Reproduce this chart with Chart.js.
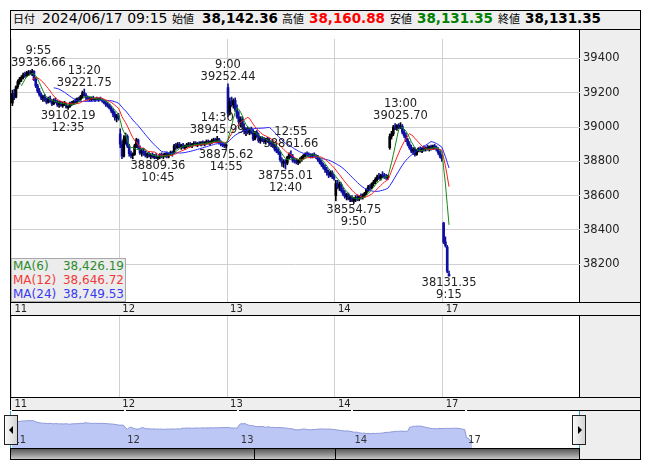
<!DOCTYPE html>
<html>
<head>
<meta charset="utf-8">
<script src="https://cdn.jsdelivr.net/npm/chart.js@4.4.1/dist/chart.umd.min.js"></script>
<style>
  body { margin: 0; background: #fff; }
  #wrap { position: relative; width: 653px; height: 470px; overflow: hidden; font-family: "DejaVu Sans", sans-serif; }
  .a { position: absolute; box-sizing: border-box; }
  canvas { position: absolute; left: 0; }
  .jp { position: absolute; top: 10px; height: 20px; line-height: 20px; font: 11px "Noto Sans CJK JP"; color: #000; }
  .num { position: absolute; top: 10px; height: 20px; line-height: 20px; font: bold 13.5px "DejaVu Sans"; color: #000; }
  .ma { height: 14px; line-height: 14px; font: 12px "DejaVu Sans"; display: flex; justify-content: space-between; padding: 0 1px 0 1px; }
  .tri { position: absolute; width: 0; height: 0; border-top: 4px solid transparent; border-bottom: 4px solid transparent; }
</style>
</head>
<body>
<div id="wrap">
  <!-- frame and panel backgrounds -->
  <div class="a" style="left:10px;top:10px;width:631px;height:450px;border:1px solid #000;background:#fff"></div>
  <div class="a" style="left:11px;top:11px;width:629px;height:18px;background:#eee"></div>
  <div class="a" style="left:10px;top:29px;width:631px;height:1px;background:#000"></div>
  <div class="a" style="left:580px;top:30px;width:60px;height:272px;background:#eee"></div>
  <div class="a" style="left:579px;top:30px;width:1px;height:272px;background:#000"></div>
  <div class="a" style="left:10px;top:302px;width:631px;height:1px;background:#000"></div>
  <div class="a" style="left:11px;top:303px;width:629px;height:12px;background:#eee"></div>
  <div class="a" style="left:10px;top:315px;width:631px;height:1px;background:#000"></div>
  <div class="a" style="left:580px;top:316px;width:60px;height:81px;background:#eee"></div>
  <div class="a" style="left:579px;top:316px;width:1px;height:81px;background:#000"></div>
  <div class="a" style="left:10px;top:397px;width:631px;height:1px;background:#000"></div>
  <div class="a" style="left:11px;top:398px;width:629px;height:12px;background:#eee"></div>
  <div class="a" style="left:10px;top:410px;width:631px;height:1px;background:#000"></div>
  <div class="a" style="left:580px;top:411px;width:60px;height:48px;background:#eee"></div>
  <div class="a" style="left:11px;top:448px;width:568px;height:11px;border-top:1px solid #000;background:linear-gradient(#5a5a5a,#8c8c8c 50%,#c8c8c8)"></div>
  <div class="a" style="left:579px;top:448px;width:1px;height:11px;background:#000"></div>
  <div class="a" style="left:254px;top:448px;width:1px;height:11px;background:#000"></div>
  <div class="a" style="left:335px;top:448px;width:1px;height:11px;background:#000"></div>

  <!-- header -->
  <span class="jp" style="left:13px">日付</span>
  <span id="stamp" style="position:absolute;left:42px;top:10px;height:20px;line-height:20px;font:14px 'DejaVu Sans';color:#000"></span>
  <span class="jp" style="left:172px">始値</span>
  <span class="num" id="hO" style="left:202px"></span>
  <span class="jp" style="left:282px">高値</span>
  <span class="num" id="hH" style="left:309px;color:#f00"></span>
  <span class="jp" style="left:390px">安値</span>
  <span class="num" id="hL" style="left:417px;color:#008000"></span>
  <span class="jp" style="left:498px">終値</span>
  <span class="num" id="hC" style="left:525px"></span>

  <canvas id="main" width="641" height="287" style="top:29px"></canvas>
  <canvas id="sub" width="641" height="95" style="top:316px"></canvas>
  <canvas id="nav" width="641" height="38" style="top:410px"></canvas>

  <div id="legend" class="a" style="left:11px;top:258px;width:115px;height:44px;background:#ececec;border:1px solid #a8a8a8"></div>

  <!-- navigator handles -->
  <div class="a" style="left:10px;top:411px;width:1px;height:37px;background:#29abe2"></div>
  <div class="a" style="left:579px;top:411px;width:1px;height:37px;background:#29abe2"></div>
  <div class="a" style="left:4px;top:415px;width:14px;height:30px;border:1px solid #222;background:linear-gradient(to right,#fafafa,#d4d4d4)">
    <div class="tri" style="left:4px;top:10px;border-right:4px solid #000"></div>
  </div>
  <div class="a" style="left:572px;top:415px;width:14px;height:30px;border:1px solid #222;background:linear-gradient(to right,#fafafa,#d4d4d4)">
    <div class="tri" style="left:5px;top:10px;border-left:4px solid #000"></div>
  </div>
</div>
<script>
// day axis
const dayLabels = ["11", "12", "13", "14", "17"];
const dayStarts = [0, 60, 120, 180, 240];
const priceTicks = [38200, 38400, 38600, 38800, 39000, 39200, 39400];

// moving averages
const maPeriods = [6, 12, 24];
const maColors = ["#128a12", "#ff1a1a", "#2424ff"];
const maTextColors = ["#2e8b2e", "#f03a3a", "#3a3af0"];
const maLegendValues = [38426.19, 38646.72, 38749.53];

const lastStamp = ["2024/06/17", "09:15"];

// 5-minute candles [open, high, low, close]
const day11 = [
  [39140,39215,39125,39195],[39195,39220,39160,39175],[39175,39240,39170,39235],[39235,39275,39225,39265],
  [39265,39290,39250,39280],[39280,39300,39265,39290],[39290,39315,39280,39305],[39305,39320,39290,39300],
  [39300,39325,39295,39315],[39315,39330,39300,39320],[39320,39330,39305,39310],[39310,39336.66,39300,39325],
  [39325,39330,39270,39280],[39280,39290,39230,39240],[39240,39250,39200,39210],[39210,39225,39180,39190],
  [39190,39200,39160,39170],[39170,39185,39150,39175],[39175,39190,39150,39160],[39160,39170,39135,39145],
  [39145,39175,39140,39165],[39165,39180,39145,39150],[39150,39160,39125,39135],[39135,39165,39130,39155],
  [39155,39170,39140,39145],[39145,39155,39120,39130],[39130,39150,39115,39140],[39140,39150,39120,39125],
  [39125,39145,39115,39135],[39135,39150,39125,39140],
  [39130,39140,39110,39115],[39115,39125,39102.19,39120],[39120,39145,39115,39140],[39140,39150,39125,39135],
  [39135,39155,39130,39150],[39150,39165,39140,39145],[39145,39170,39140,39165],[39165,39175,39150,39160],
  [39160,39185,39155,39180],[39180,39210,39170,39200],[39200,39221.75,39180,39185],[39185,39195,39160,39170],
  [39170,39180,39155,39165],[39165,39175,39150,39160],[39160,39175,39150,39170],[39170,39180,39155,39160],
  [39160,39170,39150,39165],[39165,39175,39155,39160],[39160,39170,39150,39165],[39165,39175,39155,39160],
  [39160,39165,39145,39150],[39150,39160,39135,39140],[39140,39150,39120,39130],[39130,39145,39115,39125],
  [39125,39135,39105,39110],[39110,39120,39085,39095],[39095,39105,39060,39075],[39075,39090,39040,39055],
  [39055,39075,39030,39065],[39065,39080,39040,39050]
];
const day12 = [
  [38960,38990,38880,38900],[38900,38920,38815,38830],[38830,38950,38825,38930],[38930,38965,38900,38945],
  [38945,38955,38880,38890],[38890,38900,38830,38845],[38845,38860,38820,38835],[38835,38850,38815,38840],
  [38840,38900,38835,38890],[38890,38935,38880,38925],[38925,38930,38870,38880],[38880,38890,38840,38850],
  [38850,38870,38830,38860],[38860,38875,38835,38845],[38845,38860,38825,38835],[38835,38850,38820,38845],
  [38845,38855,38825,38830],[38830,38845,38815,38840],[38840,38850,38820,38825],[38825,38840,38815,38835],
  [38835,38845,38815,38820],[38820,38830,38809.36,38825],[38825,38845,38815,38840],[38840,38850,38820,38830],
  [38830,38845,38815,38835],[38835,38850,38825,38845],[38845,38855,38820,38830],[38830,38850,38820,38845],
  [38845,38860,38835,38850],[38850,38860,38830,38840],
  [38850,38900,38845,38890],[38890,38905,38870,38880],[38880,38910,38875,38900],[38900,38910,38880,38885],
  [38885,38900,38870,38895],[38895,38905,38875,38880],[38880,38895,38870,38890],[38890,38905,38880,38895],
  [38895,38910,38885,38900],[38900,38910,38885,38890],[38890,38905,38880,38900],[38900,38915,38890,38905],
  [38905,38915,38890,38895],[38895,38910,38885,38905],[38905,38915,38895,38900],[38900,38915,38890,38910],
  [38910,38920,38895,38900],[38900,38915,38890,38910],[38910,38925,38900,38915],[38915,38925,38900,38905],
  [38905,38920,38895,38915],[38915,38930,38905,38920],[38920,38935,38910,38925],[38925,38935,38910,38915],
  [38915,38945.99,38910,38930],[38930,38935,38900,38910],[38910,38920,38890,38900],[38900,38910,38885,38895],
  [38895,38905,38880,38890],[38890,38900,38875.62,38895]
];
const day13 = [
  [39230,39252.44,39060,39080],[39080,39170,39070,39150],[39150,39175,39120,39130],[39130,39165,39110,39155],
  [39155,39170,39090,39100],[39100,39130,39050,39060],[39060,39090,39020,39030],[39030,39060,39000,39045],
  [39045,39060,38990,39000],[39000,39020,38960,38975],[38975,38995,38950,38985],[38985,39000,38960,38970],
  [38970,38995,38955,38990],[38990,39000,38960,38965],[38965,38985,38920,38930],[38930,38975,38925,38970],
  [38970,38980,38940,38950],[38950,38965,38910,38920],[38920,38945,38905,38935],[38935,38945,38915,38925],
  [38925,38940,38905,38915],[38915,38935,38900,38930],[38930,38940,38910,38920],[38920,38935,38895,38905],
  [38905,38920,38885,38900],[38900,38915,38880,38890],[38890,38900,38860,38870],[38870,38885,38850,38860],
  [38860,38880,38840,38850],[38850,38860,38800,38810],
  [38800,38820,38770,38790],[38790,38810,38765,38800],[38800,38810,38755.01,38790],[38790,38830,38780,38825],
  [38825,38850,38815,38840],[38840,38861.66,38820,38830],[38830,38840,38795,38805],[38805,38820,38790,38800],
  [38800,38815,38785,38795],[38795,38810,38780,38805],[38805,38820,38790,38810],[38810,38830,38800,38825],
  [38825,38840,38815,38835],[38835,38850,38825,38845],[38845,38855,38830,38840],[38840,38850,38825,38835],
  [38835,38845,38820,38830],[38830,38845,38820,38840],[38840,38850,38825,38830],[38830,38840,38815,38825],
  [38825,38835,38800,38810],[38810,38820,38785,38795],[38795,38805,38770,38780],[38780,38790,38755,38765],
  [38765,38780,38735,38750],[38750,38765,38720,38735],[38735,38750,38705,38720],[38720,38745,38710,38735],
  [38735,38745,38700,38710],[38710,38725,38690,38700]
];
const day14 = [
  [38600,38690,38570,38670],[38670,38690,38640,38650],[38650,38680,38630,38665],[38665,38675,38620,38630],
  [38630,38645,38600,38610],[38610,38630,38585,38595],[38595,38615,38575,38605],[38605,38615,38575,38580],
  [38580,38600,38565,38590],[38590,38600,38565,38570],[38570,38590,38554.75,38580],[38580,38600,38565,38590],
  [38590,38605,38570,38580],[38580,38600,38570,38595],[38595,38610,38580,38590],[38590,38610,38580,38600],
  [38600,38620,38590,38615],[38615,38640,38605,38635],[38635,38660,38625,38650],[38650,38665,38630,38645],
  [38645,38675,38640,38670],[38670,38690,38655,38680],[38680,38705,38670,38695],[38695,38720,38685,38710],
  [38710,38730,38695,38700],[38700,38725,38690,38720],[38720,38740,38705,38715],[38715,38730,38700,38710],
  [38710,38725,38695,38705],[38705,38720,38695,38715],
  [38880,38960,38870,38945],[38945,38975,38930,38960],[38960,39010,38950,39000],[39000,39020,38985,38995],
  [38995,39015,38980,39010],[39010,39020,38990,39000],[39000,39025.70,38990,39005],[39005,39015,38960,38970],
  [38970,38985,38940,38950],[38950,38965,38915,38925],[38925,38935,38890,38900],[38900,38915,38870,38880],
  [38880,38895,38850,38860],[38860,38880,38840,38870],[38870,38880,38830,38840],[38840,38870,38835,38865],
  [38865,38880,38855,38875],[38875,38885,38855,38860],[38860,38880,38850,38875],[38875,38890,38860,38870],
  [38870,38885,38860,38880],[38880,38895,38865,38870],[38870,38890,38860,38885],[38885,38895,38865,38875],
  [38875,38895,38870,38890],[38890,38900,38870,38880],[38880,38890,38860,38870],[38870,38880,38840,38850],
  [38850,38860,38820,38830],[38830,38840,38800,38815]
];
const day17 = [
  [38440,38445,38320,38330],[38330,38360,38300,38310],[38300,38310,38150,38160],[38142.36,38160.88,38131.35,38131.35]
];

// swing high / low labels
const markIdx = [11, 40, 31, 81, 114, 119, 120, 155, 152, 190, 216, 243];
const markVal = [39336.66, 39221.75, 39102.19, 38809.36, 38945.99, 38875.62, 39252.44, 38861.66, 38755.01, 38554.75, 39025.70, 38131.35];
const markTime = ["9:55", "13:20", "12:35", "10:45", "14:30", "14:55", "9:00", "12:55", "12:40", "9:50", "13:00", "9:15"];
const markSide = ["hi", "hi", "lo", "lo", "hi", "lo", "hi", "hi", "lo", "lo", "hi", "lo"];

const candles = [...day11, ...day12, ...day13, ...day14, ...day17];
const closes = candles.map(c => c[3]);
const UP = "#000000", DOWN = "#1010a0";
const X_MIN = -0.28, X_MAX = 316.4;
const bandFont = { family: "DejaVu Sans", size: 10 };

const fmt = v => v.toLocaleString("en-US", { minimumFractionDigits: 2, maximumFractionDigits: 2 });

// header from the last candle
const last = candles[candles.length - 1];
document.getElementById("stamp").textContent = lastStamp.join(" ");
document.getElementById("hO").textContent = fmt(last[0]);
document.getElementById("hH").textContent = fmt(last[1]);
document.getElementById("hL").textContent = fmt(last[2]);
document.getElementById("hC").textContent = fmt(last[3]);

// MA legend box
document.getElementById("legend").innerHTML = maPeriods.map((n, k) =>
  `<div class="ma" style="color:${maTextColors[k]}"><span>MA(${n})</span><span>${fmt(maLegendValues[k])}</span></div>`).join("");

const movingAvg = n => {
  const out = [];
  for (let i = n - 1; i < closes.length; i++) {
    let s = 0;
    for (let k = i - n + 1; k <= i; k++) s += closes[k];
    out.push({ x: i + 0.5, y: s / n });
  }
  return out;
};

const candleColor = ctx => {
  const c = candles[ctx.dataIndex];
  return c && c[3] >= c[0] ? UP : DOWN;
};

const dayAxis = () => ({
  type: "linear",
  min: X_MIN,
  max: X_MAX,
  offset: false,
  grid: { color: "#d0d0d0", lineWidth: 1, drawTicks: false, offset: false },
  border: { display: false },
  afterBuildTicks: s => { s.ticks = dayStarts.map(v => ({ value: v })); },
  afterFit: s => { s.height = 14; },
  ticks: {
    autoSkip: false, maxRotation: 0, align: "start", labelOffset: 3, padding: 1,
    font: bandFont, color: "#222",
    callback: (v, i) => dayLabels[i]
  }
});

// text labels at swing highs and lows
const swingLabels = {
  id: "swingLabels",
  afterDatasetsDraw(chart) {
    const { ctx, chartArea, scales: { x, y } } = chart;
    ctx.save();
    ctx.font = '11.5px "DejaVu Sans"';
    ctx.fillStyle = "#222";
    ctx.textAlign = "center";
    ctx.textBaseline = "middle";
    markIdx.forEach((idx, k) => {
      const txt = markVal[k].toFixed(2);
      const w = ctx.measureText(txt).width;
      let px = x.getPixelForValue(idx + 0.5);
      px = Math.max(px, chartArea.left + w / 2);
      const py = y.getPixelForValue(markVal[k]);
      if (markSide[k] === "hi") {
        ctx.fillText(txt, px, py - 6.5);
        ctx.fillText(markTime[k], px, py - 18.5);
      } else {
        ctx.fillText(txt, px, py + 6.5);
        ctx.fillText(markTime[k], px, py + 18.5);
      }
    });
    ctx.restore();
  }
};

// day names inside the navigator strip
const navDayLabels = {
  id: "navDayLabels",
  afterDraw(chart) {
    const { ctx, chartArea, scales: { x } } = chart;
    ctx.save();
    ctx.font = '10px "DejaVu Sans"';
    ctx.fillStyle = "#333";
    ctx.textAlign = "left";
    ctx.textBaseline = "middle";
    dayStarts.forEach((v, i) => {
      ctx.fillText(dayLabels[i], x.getPixelForValue(v) + 2.5, chartArea.bottom - 7.5);
    });
    ctx.restore();
  }
};

new Chart(document.getElementById("main"), {
  type: "bar",
  data: {
    datasets: [
      ...maPeriods.map((n, k) => ({
        type: "line",
        data: movingAvg(n),
        borderColor: maColors[k],
        borderWidth: 1,
        pointRadius: 0,
        tension: 0,
        order: 0
      })),
      {
        data: candles.map((c, i) => ({ x: i + 0.5, y: [c[0], c[3]] })),
        backgroundColor: candleColor,
        barThickness: 2,
        minBarLength: 1,
        grouped: false,
        order: 1
      },
      {
        data: candles.map((c, i) => ({ x: i + 0.5, y: [c[2], c[1]] })),
        backgroundColor: candleColor,
        barThickness: 1,
        grouped: false,
        order: 2
      }
    ]
  },
  options: {
    responsive: false,
    animation: false,
    layout: { padding: { left: 11, top: 0, right: 0, bottom: 0 } },
    plugins: { legend: { display: false }, tooltip: { enabled: false } },
    scales: {
      x: dayAxis(),
      y: {
        type: "linear",
        position: "right",
        min: 37980,
        max: 39514,
        grid: { color: "#d0d0d0", drawTicks: false },
        border: { display: false },
        afterBuildTicks: s => { s.ticks = priceTicks.map(v => ({ value: v })); },
        afterFit: s => { s.width = 61; },
        ticks: { padding: 3, font: { family: "DejaVu Sans", size: 11.5 }, color: "#222", callback: v => String(v) }
      }
    }
  },
  plugins: [swingLabels]
});

// empty lower panel with its own day band
new Chart(document.getElementById("sub"), {
  type: "line",
  data: { datasets: [] },
  options: {
    responsive: false,
    animation: false,
    layout: { padding: { left: 11, right: 61 } },
    plugins: { legend: { display: false }, tooltip: { enabled: false } },
    scales: {
      x: dayAxis(),
      y: { display: false, min: 0, max: 1 }
    }
  }
});

// navigator
new Chart(document.getElementById("nav"), {
  type: "line",
  data: {
    datasets: [{
      data: closes.map((v, i) => ({ x: i + 0.5, y: v })),
      borderColor: "#8c98d8",
      borderWidth: 1,
      backgroundColor: "#bcc7f6",
      fill: "start",
      pointRadius: 0,
      tension: 0
    }]
  },
  options: {
    responsive: false,
    animation: false,
    layout: { padding: { left: 11, right: 61 } },
    plugins: { legend: { display: false }, tooltip: { enabled: false } },
    scales: {
      x: {
        type: "linear",
        min: 0,
        max: 300.4,
        z: 1,
        grid: { color: "#ffffff", lineWidth: 2, drawTicks: false },
        border: { display: false },
        afterBuildTicks: s => { s.ticks = dayStarts.map(v => ({ value: v })); },
        afterFit: s => { s.height = 0; },
        ticks: { display: false }
      },
      y: { display: false, min: 37750, max: 39930 }
    }
  },
  plugins: [navDayLabels]
});
</script>
</body>
</html>
